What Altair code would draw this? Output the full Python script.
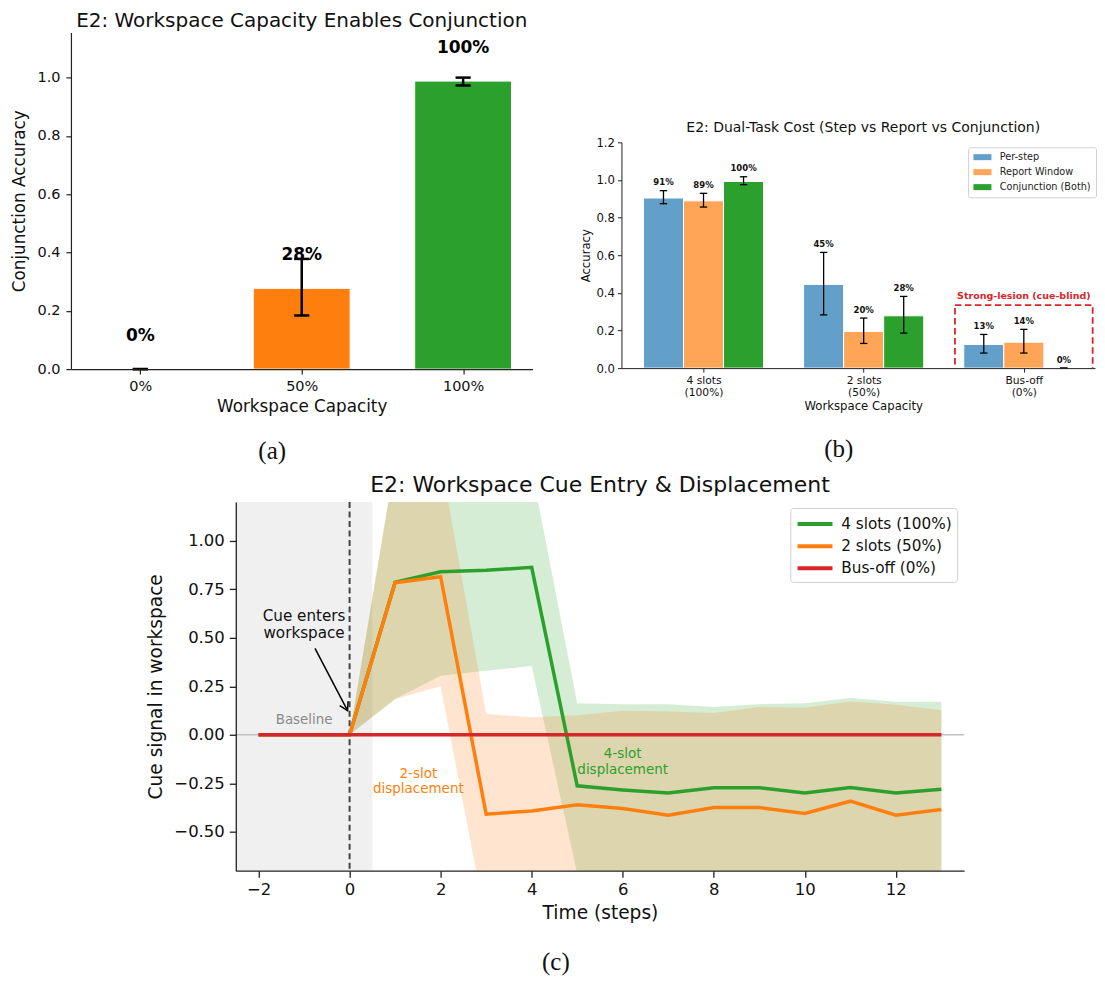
import altair as alt
import pandas as pd

FONT = "DejaVu Sans"
SERIF = "Liberation Serif"

# ---------------- panel (a) data ----------------
a_caps = ["0%", "50%", "100%"]
a_acc = [0.0, 0.277, 0.988]
a_err_lo = [0.0, 0.184, 0.973]
a_err_hi = [0.0, 0.378, 1.0]
a_labels = ["0%", "28%", "100%"]
a_colors = ["#1f77b4", "#ff7f0e", "#2ca02c"]
a_yticks = [0.0, 0.2, 0.4, 0.6, 0.8, 1.0]

# ---------------- panel (b) data ----------------
b_groups = [["4 slots", "(100%)"], ["2 slots", "(50%)"], ["Bus-off", "(0%)"]]
b_series = ["Per-step", "Report Window", "Conjunction (Both)"]
b_colors = ["#62a0ca", "#ffa557", "#2ca02c"]
b_perstep = [0.904, 0.445, 0.126]
b_perstep_lo = [0.874, 0.283, 0.080]
b_perstep_hi = [0.943, 0.615, 0.179]
b_report = [0.889, 0.195, 0.138]
b_report_lo = [0.856, 0.131, 0.080]
b_report_hi = [0.929, 0.266, 0.206]
b_conj = [0.992, 0.278, 0.0]
b_conj_lo = [0.975, 0.186, 0.0]
b_conj_hi = [1.017, 0.381, 0.0]
b_pct_perstep = ["91%", "45%", "13%"]
b_pct_report = ["89%", "20%", "14%"]
b_pct_conj = ["100%", "28%", "0%"]
b_yticks = [0.0, 0.2, 0.4, 0.6, 0.8, 1.0, 1.2]
b_lesion_box_x = [1.57, 2.43]
b_lesion_box_y = [-0.02, 0.335]
b_lesion_label = ["Strong-lesion (cue-blind)"]
b_lesion_label_pos = [2.0, 0.381]

# ---------------- panel (c) data ----------------
c_t = [-2, -1, 0, 1, 2, 3, 4, 5, 6, 7, 8, 9, 10, 11, 12, 13]
c_series = ["4 slots (100%)", "2 slots (50%)", "Bus-off (0%)"]
c_colors = ["#2ca02c", "#ff7f0e", "#d62728"]
c_mean_4 = [0, 0, 0, 0.787, 0.840, 0.848, 0.863, -0.263, -0.284, -0.300, -0.273, -0.273, -0.300, -0.271, -0.300, -0.280]
c_mean_2 = [0, 0, 0, 0.784, 0.815, -0.409, -0.392, -0.361, -0.380, -0.414, -0.375, -0.375, -0.405, -0.342, -0.414, -0.385]
c_mean_0 = [0, 0, 0, 0, 0, 0, 0, 0, 0, 0, 0, 0, 0, 0, 0, 0]
c_up_4 = [0, 0, 0, 1.41, 1.38, 1.37, 1.37, 0.163, 0.158, 0.158, 0.144, 0.158, 0.163, 0.190, 0.170, 0.170]
c_lo_4 = [0, 0, 0, 0.185, 0.304, 0.330, 0.355, -0.715, -0.730, -0.760, -0.720, -0.720, -0.760, -0.730, -0.770, -0.730]
c_up_2 = [0, 0, 0, 1.41, 1.42, 0.108, 0.090, 0.101, 0.124, 0.120, 0.113, 0.144, 0.139, 0.172, 0.155, 0.127]
c_lo_2 = [0, 0, 0, 0.185, 0.250, -0.970, -0.870, -0.820, -0.880, -0.950, -0.860, -0.890, -0.950, -0.860, -0.980, -0.900]
c_baseline_window = [-2.5, 0.5]
c_cue_onset = [0]
c_xticks = [-2, 0, 2, 4, 6, 8, 10, 12]
c_yticks = [-0.5, -0.25, 0.0, 0.25, 0.5, 0.75, 1.0]
c_arrow_tail = [-0.76, 0.446]
c_arrow_tip = [-0.044, 0.125]
c_note_cue = ["Cue enters", "workspace"]
c_note_cue_pos = [-1.0, 0.614, 0.523]
c_note_base = ["Baseline"]
c_note_base_pos = [-1.0, 0.074]
c_note_2 = ["2-slot", "displacement"]
c_note_2_pos = [1.51, -0.200, -0.278]
c_note_4 = ["4-slot", "displacement"]
c_note_4_pos = [6.0, -0.100, -0.179]


def axis_style(lab, tit, tick, lpad, tpad, width):
    return dict(labelFontSize=lab, titleFontSize=tit, tickSize=tick, labelPadding=lpad,
                titlePadding=tpad, grid=False, domainColor="#222", tickColor="#222",
                domainWidth=width, tickWidth=width, labelColor="#111", titleColor="#111",
                titleFontWeight="normal", labelFont=FONT, titleFont=FONT,
                labelFlush=False, labelOverlap=False, zindex=1)


# ================= panel (a) =================
a_df = pd.DataFrame({"idx": [0, 1, 2], "cap": a_caps, "acc": a_acc,
                     "lo": a_err_lo, "hi": a_err_hi, "label": a_labels})
a_xs = alt.Scale(domain=[-0.43, 2.43], nice=False, zero=False)
a_ys = alt.Scale(domain=[0, 1.155], nice=False)
a_xexpr = "[" + ",".join("'%s'" % c for c in a_caps) + "][datum.value]"
a_ax = alt.Axis(values=[0, 1, 2], labelExpr=a_xexpr, **axis_style(14.5, 16.8, 5, 5, 6, 1.2))
a_ay = alt.Axis(values=a_yticks, format=".1f", **axis_style(14.5, 16.8, 5, 6, 8, 1.2))
a_xt = "Workspace Capacity"
a_yt = "Conjunction Accuracy"


def ax_a(f):
    return alt.X(f, type="quantitative", scale=a_xs, axis=a_ax, title=a_xt)


def ay_a(f):
    return alt.Y(f, type="quantitative", scale=a_ys, axis=a_ay, title=a_yt, stack=None)


a_base = alt.Chart(a_df).transform_calculate(
    xl="datum.idx - 0.3", xr="datum.idx + 0.3", zero="0",
    cl="datum.idx - 0.047", cr="datum.idx + 0.047", ty="datum.acc + 0.115")
a_bars = a_base.mark_bar(stroke="white", strokeWidth=1).encode(
    x=ax_a("xl"), x2="xr:Q", y=ay_a("acc"), y2="zero:Q",
    color=alt.Color("cap:N", scale=alt.Scale(domain=a_caps, range=a_colors), legend=None))
a_err = a_base.mark_rule(color="black", strokeWidth=2.5).encode(x=ax_a("idx"), y=ay_a("lo"), y2="hi:Q")
a_cap_hi = a_base.mark_rule(color="black", strokeWidth=2.5).encode(x=ax_a("cl"), x2="cr:Q", y=ay_a("hi"))
a_cap_lo = a_base.mark_rule(color="black", strokeWidth=2.5).encode(x=ax_a("cl"), x2="cr:Q", y=ay_a("lo"))
a_txt = a_base.mark_text(fontWeight="bold", fontSize=17, font=FONT, baseline="middle", color="black").encode(
    x=ax_a("idx"), y=ay_a("ty"), text="label:N")
A = alt.layer(a_bars, a_err, a_cap_hi, a_cap_lo, a_txt).properties(
    width=462, height=337,
    title=alt.TitleParams("E2: Workspace Capacity Enables Conjunction", fontSize=20, font=FONT,
                          fontWeight="normal", color="#111", anchor="middle", offset=1))

# ================= panel (b) =================
rows = []
vals = [b_perstep, b_report, b_conj]
los = [b_perstep_lo, b_report_lo, b_conj_lo]
his = [b_perstep_hi, b_report_hi, b_conj_hi]
pcts = [b_pct_perstep, b_pct_report, b_pct_conj]
for s in range(3):
    for g in range(3):
        rows.append({"g": g, "s": s, "series": b_series[s], "val": vals[s][g],
                     "lo": los[s][g], "hi": his[s][g], "pct": pcts[s][g]})
b_df = pd.DataFrame(rows)
b_xs = alt.Scale(domain=[-0.5125, 2.4445], nice=False, zero=False)
b_ys = alt.Scale(domain=[0, 1.2], nice=False)
b_xexpr = "[" + ",".join("['%s','%s']" % (a, b) for a, b in b_groups) + "][datum.value]"
b_ax = alt.Axis(values=[0, 1, 2], labelExpr=b_xexpr, labelLineHeight=12,
                titleX=242, **axis_style(10.7, 11.7, 4, 3, 4, 1.0))
b_ay = alt.Axis(values=b_yticks, format=".1f", **axis_style(11.7, 11.7, 4, 3, 4, 1.0))
b_xt = "Workspace Capacity"
b_yt = "Accuracy"


def ax_b(f):
    return alt.X(f, type="quantitative", scale=b_xs, axis=b_ax, title=b_xt)


def ay_b(f):
    return alt.Y(f, type="quantitative", scale=b_ys, axis=b_ay, title=b_yt, stack=None)


b_base = alt.Chart(b_df).transform_calculate(
    c="datum.g + (datum.s - 1) * 0.25").transform_calculate(
    xl="datum.c - 0.125", xr="datum.c + 0.125", cl="datum.c - 0.023", cr="datum.c + 0.023",
    ty="datum.hi + 0.0447", zero="0")
b_bars = b_base.mark_bar(stroke="white", strokeWidth=1).encode(
    x=ax_b("xl"), x2="xr:Q", y=ay_b("val"), y2="zero:Q",
    color=alt.Color("series:N", scale=alt.Scale(domain=b_series, range=b_colors),
                    legend=alt.Legend(title=None, orient="none", legendX=347, legendY=5,
                                      symbolType="M-1,-0.67L3,-0.67L3,0.67L-1,0.67Z", symbolSize=81,
                                      symbolStrokeWidth=0, symbolOpacity=1, labelFontSize=9.7,
                                      labelFont=FONT, labelColor="#222", rowPadding=4, padding=5,
                                      labelOffset=17, strokeColor="#d0d0d0", fillColor="white",
                                      cornerRadius=2)))
b_err = b_base.mark_rule(color="black", strokeWidth=1.3).encode(x=ax_b("c"), y=ay_b("lo"), y2="hi:Q")
b_cap_hi = b_base.mark_rule(color="black", strokeWidth=1.3).encode(x=ax_b("cl"), x2="cr:Q", y=ay_b("hi"))
b_cap_lo = b_base.mark_rule(color="black", strokeWidth=1.3).encode(x=ax_b("cl"), x2="cr:Q", y=ay_b("lo"))
b_txt = b_base.mark_text(fontWeight="bold", fontSize=8.5, font=FONT, baseline="middle", color="#111").encode(
    x=ax_b("c"), y=ay_b("ty"), text="pct:N")
box_df = pd.DataFrame({"x0": [b_lesion_box_x[0]], "x1": [b_lesion_box_x[1]],
                       "y0": [b_lesion_box_y[0]], "y1": [b_lesion_box_y[1]]})
b_box = alt.Chart(box_df).mark_rect(fill="transparent", stroke="#d62728", strokeWidth=1.8,
                                    strokeDash=[6.5, 3.5], clip=True).encode(
    x=ax_b("x0"), x2="x1:Q", y=ay_b("y0"), y2="y1:Q")
lab_df = pd.DataFrame({"x": [b_lesion_label_pos[0]], "y": [b_lesion_label_pos[1]], "t": b_lesion_label})
b_boxlab = alt.Chart(lab_df).mark_text(fontWeight="bold", fontSize=9.5, font=FONT, color="#d62728",
                                       baseline="middle").encode(x=ax_b("x"), y=ay_b("y"), text="t:N")
B = alt.layer(b_bars, b_err, b_cap_hi, b_cap_lo, b_txt, b_box, b_boxlab).properties(
    width=474, height=226,
    title=alt.TitleParams("E2: Dual-Task Cost (Step vs Report vs Conjunction)", fontSize=14, font=FONT,
                          fontWeight="normal", color="#111", anchor="middle", offset=2, dx=5))

# ================= panel (c) =================
crow = []
means = [c_mean_4, c_mean_2, c_mean_0]
for k in range(3):
    for i, t in enumerate(c_t):
        crow.append({"t": t, "series": c_series[k], "mean": means[k][i], "k": k})
c_df = pd.DataFrame(crow)
band_df = pd.DataFrame({"t": c_t + c_t, "band": ["4"] * len(c_t) + ["2"] * len(c_t),
                        "lo": c_lo_4 + c_lo_2, "up": c_up_4 + c_up_2})
c_xs = alt.Scale(domain=[-2.5, 13.5], nice=False, zero=False)
c_ys = alt.Scale(domain=[-0.7, 1.2], nice=False, zero=False)
c_ax = alt.Axis(values=c_xticks, format="d", **axis_style(16.5, 18.6, 6.5, 4, 6, 1.3))
c_ay = alt.Axis(values=c_yticks, format=".2f", **axis_style(16.5, 18.6, 6.5, 5, 8, 1.3))
c_xt = "Time (steps)"
c_yt = "Cue signal in workspace"


def ax_c(f):
    return alt.X(f, type="quantitative", scale=c_xs, axis=c_ax, title=c_xt)


def ay_c(f):
    return alt.Y(f, type="quantitative", scale=c_ys, axis=c_ay, title=c_yt)


win_df = pd.DataFrame({"x0": [c_baseline_window[0]], "x1": [c_baseline_window[1]]})
c_win = alt.Chart(win_df).mark_rect(color="#f0f0f0").encode(x=ax_c("x0"), x2="x1:Q")
zero_df = pd.DataFrame({"y": [0.0]})
c_zero = alt.Chart(zero_df).mark_rule(color="#c0c0c0", strokeWidth=1.5).encode(y=ay_c("y"))
c_band4 = alt.Chart(band_df).transform_filter("datum.band == '4'").mark_area(
    color="#2ca02c", opacity=0.2, clip=True).encode(x=ax_c("t"), y=ay_c("lo"), y2="up:Q")
c_band2 = alt.Chart(band_df).transform_filter("datum.band == '2'").mark_area(
    color="#ff7f0e", opacity=0.2, clip=True).encode(x=ax_c("t"), y=ay_c("lo"), y2="up:Q")
on_df = pd.DataFrame({"x": c_cue_onset})
c_onset = alt.Chart(on_df).mark_rule(color="#444", strokeWidth=2, strokeDash=[6, 3.5]).encode(x=ax_c("x"))
c_lines = alt.Chart(c_df).mark_line(strokeWidth=3.5).encode(
    x=ax_c("t"), y=ay_c("mean"), order="t:Q",
    color=alt.Color("series:N", scale=alt.Scale(domain=c_series, range=c_colors),
                    legend=alt.Legend(title=None, orient="none", legendX=555, legendY=6,
                                      symbolType="M-1,0L3,0", symbolSize=306, symbolStrokeWidth=4,
                                      labelFontSize=15.3, labelFont=FONT, labelColor="#111",
                                      rowPadding=2.2, padding=5, labelOffset=24,
                                      strokeColor="#d0d0d0", fillColor="white", cornerRadius=3)))
arr_df = pd.DataFrame({"x0": [c_arrow_tail[0]], "y0": [c_arrow_tail[1]],
                       "x1": [c_arrow_tip[0]], "y1": [c_arrow_tip[1]]})
c_arrow = alt.Chart(arr_df).mark_rule(color="black", strokeWidth=1.5).encode(
    x=ax_c("x0"), y=ay_c("y0"), x2="x1:Q", y2="y1:Q")
c_head = alt.Chart(arr_df).mark_point(shape="M-0.7,1.2L0,0L0.7,1.2", filled=False, color="black",
                                      strokeWidth=1.5, size=180, angle=152.4, opacity=1).encode(
    x=ax_c("x1"), y=ay_c("y1"))


def notes(texts, x, ys, color, size):
    df = pd.DataFrame({"x": [x] * len(texts), "y": ys, "t": texts})
    return alt.Chart(df).mark_text(color=color, fontSize=size, font=FONT, baseline="middle").encode(
        x=ax_c("x"), y=ay_c("y"), text="t:N")


c_t1 = notes(c_note_cue, c_note_cue_pos[0], c_note_cue_pos[1:], "#111", 15.2)
c_t2 = notes(c_note_base, c_note_base_pos[0], c_note_base_pos[1:], "#888888", 13.4)
c_t3 = notes(c_note_2, c_note_2_pos[0], c_note_2_pos[1:], "#ff7f0e", 13.5)
c_t4 = notes(c_note_4, c_note_4_pos[0], c_note_4_pos[1:], "#2ca02c", 13.5)

C = alt.layer(c_win, c_zero, c_band4, c_band2, c_onset, c_lines, c_arrow, c_head,
              c_t1, c_t2, c_t3, c_t4).properties(
    width=729, height=369,
    title=alt.TitleParams("E2: Workspace Cue Entry & Displacement", fontSize=22, font=FONT,
                          fontWeight="normal", color="#111", anchor="middle", offset=4))


# ================= composition =================
def caption(txt, off):
    return alt.TitleParams(txt, orient="bottom", anchor="middle", fontSize=25, font=SERIF,
                           fontWeight="normal", color="#111", offset=off)


def indep(ch):
    return ch.resolve_scale(color="independent").resolve_legend(color="independent")


spacer_df = pd.DataFrame({"v": [0]})
spacer_b = alt.Chart(spacer_df).mark_point(opacity=0).properties(width=1, height=89)
spacer_c = alt.Chart(spacer_df).mark_point(opacity=0).properties(width=75, height=1)

A_full = indep(alt.vconcat(A, title=caption("(a)", 24)))
B_full = indep(alt.vconcat(spacer_b, B, spacing=0, title=caption("(b)", 25)))
C_full = indep(alt.vconcat(C, title=caption("(c)", 28)))
row1 = indep(alt.hconcat(A_full, B_full, spacing=48))
row2 = indep(alt.hconcat(spacer_c, C_full, spacing=0))

chart = indep(alt.vconcat(row1, row2, spacing=9)).properties(
    padding={"top": 3, "left": 3, "right": 0, "bottom": 0}).configure_view(stroke=None)

chart.save("out.html", embed_options={"renderer": "svg", "actions": False})
